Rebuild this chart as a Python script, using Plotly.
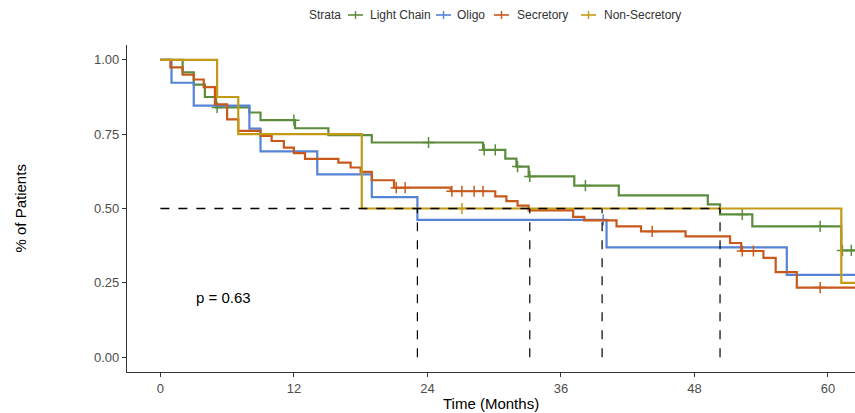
import plotly.graph_objects as go

# ---- data ----
strata = ["Light Chain", "Oligo", "Secretory", "Non-Secretory"]
colors = ["#5B8C3C", "#5583D6", "#C8591B", "#C49A14"]

lc_times = [2.0, 3.0, 4.0, 5.0, 8.0, 9.0, 12.1, 15.1, 19.0, 29.0, 31.0, 32.0, 33.1, 37.2, 41.2, 49.2, 50.3, 53.2, 61.2]
lc_surv = [0.958, 0.917, 0.875, 0.84, 0.823, 0.797, 0.77, 0.747, 0.722, 0.697, 0.668, 0.641, 0.608, 0.577, 0.544, 0.514, 0.48, 0.44, 0.359]
lc_cens = [5.1, 12.0, 24.1, 29.1, 30.1, 32.1, 33.2, 38.2, 52.3, 59.3, 61.3, 62.1]

ol_times = [1.0, 3.0, 8.0, 9.0, 14.1, 19.0, 23.1, 40.1, 56.3]
ol_surv = [0.923, 0.846, 0.769, 0.692, 0.615, 0.538, 0.462, 0.369, 0.277]
ol_cens = [39.8]

se_times = [0.9, 2.0, 3.0, 3.9, 4.9, 6.0, 7.0, 9.0, 10.0, 11.1, 12.0, 13.0, 16.0, 17.1, 18.0, 19.0, 21.0,
            26.1, 30.1, 31.1, 32.1, 33.1, 37.1, 38.1, 41.0, 43.2, 47.2, 51.2, 52.2, 54.2, 55.3, 57.2]
se_surv = [0.975, 0.95, 0.934, 0.908, 0.85, 0.80, 0.761, 0.744, 0.727, 0.705, 0.686, 0.667, 0.654, 0.638, 0.623, 0.595, 0.57,
           0.558, 0.541, 0.525, 0.51, 0.494, 0.472, 0.46, 0.44, 0.423, 0.406, 0.384, 0.357, 0.334, 0.286, 0.234]
se_cens = [21.2, 22.0, 26.2, 27.1, 28.2, 29.0, 44.2, 52.3, 53.3, 59.3]

ns_times = [5.1, 7.0, 18.1, 61.2]
ns_surv = [0.875, 0.75, 0.5, 0.25]
ns_cens = [27.1]

medians = [23.1, 33.2, 39.7, 50.3]
p_text = "p = 0.63"
legend_title = "Strata"
end_time = 64.0

x_ticks = [0, 12, 24, 36, 48, 60]
y_ticks = [0.0, 0.25, 0.5, 0.75, 1.0]
y_ticklabels = ["0.00", "0.25", "0.50", "0.75", "1.00"]

series = [
    (lc_times, lc_surv, lc_cens),
    (ol_times, ol_surv, ol_cens),
    (se_times, se_surv, se_cens),
    (ns_times, ns_surv, ns_cens),
]

def step_value(times, surv, t):
    val = 1.0
    for ti, si in zip(times, surv):
        if t >= ti:
            val = si
    return val

W, H = 855, 413
ML, MR, MT, MB = 127, 0, 45, 41
PW, PH = W - ML - MR, H - MT - MB

def px2paper_x(px):
    return (px - ML) / PW

def py2paper_y(py):
    return (H - MB - py) / PH

fig = go.Figure()
FONT = "Liberation Sans, Arial, sans-serif"

for name, col, (times, surv, cens) in zip(strata, colors, series):
    xs = [0.0] + list(times) + [end_time]
    ys = [1.0] + list(surv) + [surv[-1]]
    fig.add_trace(go.Scatter(x=xs, y=ys, mode="lines", name=name, line=dict(color=col, width=2.2, shape="hv"),
                             showlegend=False, hoverinfo="skip"))
    cy = [step_value(times, surv, c) for c in cens]
    fig.add_trace(go.Scatter(x=cens, y=cy, mode="markers",
                             marker=dict(symbol="cross-thin", size=8, line=dict(color=col, width=1.5)),
                             showlegend=False, hoverinfo="skip"))

# median lines
fig.add_trace(go.Scatter(x=[0, max(medians)], y=[0.5, 0.5], mode="lines",
                         line=dict(color="black", width=1.4, dash="dash"), showlegend=False, hoverinfo="skip"))
for m in medians:
    fig.add_trace(go.Scatter(x=[m, m], y=[0, 0.5], mode="lines",
                             line=dict(color="black", width=1.2, dash="dash"), showlegend=False, hoverinfo="skip"))

# ---- legend drawn manually (ggplot-style short keys) ----
leg_y = py2paper_y(15)
fig.add_annotation(xref="paper", yref="paper", x=px2paper_x(307), y=leg_y, text=legend_title, showarrow=False,
                   xanchor="left", yanchor="middle", font=dict(family=FONT, size=12, color="#333333"))
key_starts = [348, 436, 494, 581]
label_lefts = [368, 455, 515, 602]
for name, col, ks, ll in zip(strata, colors, key_starts, label_lefts):
    fig.add_shape(type="line", xref="paper", yref="paper", x0=px2paper_x(ks), x1=px2paper_x(ks + 15),
                  y0=leg_y, y1=leg_y, line=dict(color=col, width=1.6))
    fig.add_shape(type="line", xref="paper", yref="paper", x0=px2paper_x(ks + 7.5), x1=px2paper_x(ks + 7.5),
                  y0=py2paper_y(11), y1=py2paper_y(19), line=dict(color=col, width=1.4))
    fig.add_annotation(xref="paper", yref="paper", x=px2paper_x(ll), y=leg_y, text=name, showarrow=False,
                       xanchor="left", yanchor="middle", font=dict(family=FONT, size=12, color="#333333"))

fig.add_annotation(x=3.0, y=0.2, text=p_text, showarrow=False, xanchor="left", yanchor="middle",
                   font=dict(family=FONT, size=15, color="black"))
fig.add_annotation(xref="paper", yref="paper", x=0.5, y=py2paper_y(403), text="Time (Months)", showarrow=False,
                   xanchor="center", yanchor="middle", font=dict(family=FONT, size=15, color="black"))
fig.add_annotation(xref="paper", yref="paper", x=px2paper_x(20), y=0.5, text="% of Patients", showarrow=False,
                   textangle=-90, xanchor="center", yanchor="middle", font=dict(family=FONT, size=15, color="black"))

axis_common = dict(showgrid=False, zeroline=False, showline=True, linecolor="#333333", linewidth=1.2,
                   ticks="outside", ticklen=4, tickcolor="#333333", tickwidth=1.1,
                   tickfont=dict(family=FONT, size=13, color="#4D4D4D"))

fig.update_layout(
    width=W, height=H,
    margin=dict(l=ML, r=MR, t=MT, b=MB),
    paper_bgcolor="white", plot_bgcolor="white",
    xaxis=dict(range=[-3.0, 62.43], tickvals=x_ticks, **axis_common),
    yaxis=dict(range=[-0.05, 1.05], tickvals=y_ticks, ticktext=y_ticklabels, **axis_common),
    showlegend=False,
    font=dict(family=FONT),
)

fig.write_html("out.html", config={"displayModeBar": False},
               post_script="document.body.style.margin='0';document.body.style.padding='0';")
